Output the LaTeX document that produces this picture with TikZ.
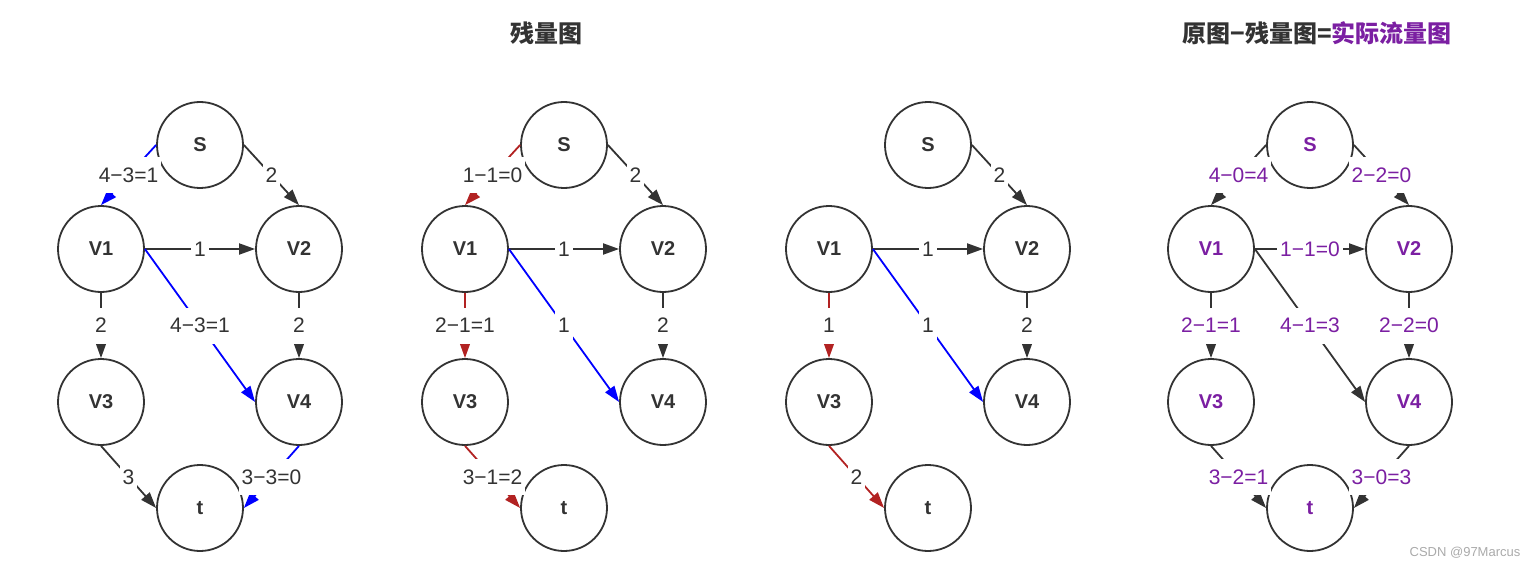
\documentclass[tikz,border=0pt]{standalone}
\usepackage{fontspec}
\setmainfont{Liberation Sans}
\newfontfamily\cjk{Noto Sans CJK SC}
\usetikzlibrary{arrows.meta}
\definecolor{ink}{HTML}{333333}
\definecolor{flowblue}{HTML}{0000FF}
\definecolor{flowred}{HTML}{B22222}
\definecolor{flowpurple}{HTML}{7B1FA2}
\definecolor{mark}{HTML}{AAAAAA}

\begin{document}
\begin{tikzpicture}[x=1pt,y=-1pt,
  vtx/.style={circle,draw=ink,line width=1.8pt,minimum size=86pt,inner sep=0pt,
    text=ink,font=\fontsize{20}{20}\selectfont\bfseries},
  conn/.style={draw=ink,line width=1.8pt,-{Triangle[length=16pt,width=11pt]}},
  wt/.style={fill=white,text=ink,inner xsep=3pt,inner ysep=0pt,minimum height=36pt,
    font=\fontsize{21}{21}\selectfont},
  heading/.style={text=ink,font=\cjk\bfseries\fontsize{24}{24}\selectfont}]
\useasboundingbox (0,0) rectangle (1537,567);

\node[heading] (titleb) at (546,33) {残量图};
\node[heading] (titled) at (1317,33) {原图−残量图=\textcolor{flowpurple}{实际流量图}};
\node[text=mark,font=\fontsize{13}{13}\selectfont] (sign) at (1465,553) {CSDN @97Marcus};

\node[vtx] (aS) at (200,145) {S};
\node[vtx] (aV1) at (101,249) {V1};
\node[vtx] (aV2) at (299,249) {V2};
\node[vtx] (aV3) at (101,402) {V3};
\node[vtx] (aV4) at (299,402) {V4};
\node[vtx] (aT) at (200,508) {t};
\draw[conn,draw=flowblue] (aS.west) -- node[wt] {4−3=1} (aV1.north);
\draw[conn] (aS.east) -- node[wt] {2} (aV2.north);
\draw[conn] (aV1.east) -- node[wt] {1} (aV2.west);
\draw[conn] (aV1.south) -- node[wt] {2} (aV3.north);
\draw[conn,draw=flowblue] (aV1.east) -- node[wt] {4−3=1} (aV4.west);
\draw[conn] (aV2.south) -- node[wt] {2} (aV4.north);
\draw[conn] (aV3.south) -- node[wt] {3} (aT.west);
\draw[conn,draw=flowblue] (aV4.south) -- node[wt] {3−3=0} (aT.east);

\begin{scope}[xshift=364pt]
\node[vtx] (bS) at (200,145) {S};
\node[vtx] (bV1) at (101,249) {V1};
\node[vtx] (bV2) at (299,249) {V2};
\node[vtx] (bV3) at (101,402) {V3};
\node[vtx] (bV4) at (299,402) {V4};
\node[vtx] (bT) at (200,508) {t};
\draw[conn,draw=flowred] (bS.west) -- node[wt] {1−1=0} (bV1.north);
\draw[conn] (bS.east) -- node[wt] {2} (bV2.north);
\draw[conn] (bV1.east) -- node[wt] {1} (bV2.west);
\draw[conn,draw=flowred] (bV1.south) -- node[wt] {2−1=1} (bV3.north);
\draw[conn,draw=flowblue] (bV1.east) -- node[wt] {1} (bV4.west);
\draw[conn] (bV2.south) -- node[wt] {2} (bV4.north);
\draw[conn,draw=flowred] (bV3.south) -- node[wt] {3−1=2} (bT.west);
\end{scope}

\begin{scope}[xshift=728pt]
\node[vtx] (cS) at (200,145) {S};
\node[vtx] (cV1) at (101,249) {V1};
\node[vtx] (cV2) at (299,249) {V2};
\node[vtx] (cV3) at (101,402) {V3};
\node[vtx] (cV4) at (299,402) {V4};
\node[vtx] (cT) at (200,508) {t};
\draw[conn] (cS.east) -- node[wt] {2} (cV2.north);
\draw[conn] (cV1.east) -- node[wt] {1} (cV2.west);
\draw[conn,draw=flowred] (cV1.south) -- node[wt] {1} (cV3.north);
\draw[conn,draw=flowblue] (cV1.east) -- node[wt] {1} (cV4.west);
\draw[conn] (cV2.south) -- node[wt] {2} (cV4.north);
\draw[conn,draw=flowred] (cV3.south) -- node[wt] {2} (cT.west);
\end{scope}

\begin{scope}[xshift=1110pt,vtx/.append style={text=flowpurple},wt/.append style={text=flowpurple}]
\node[vtx] (dS) at (200,145) {S};
\node[vtx] (dV1) at (101,249) {V1};
\node[vtx] (dV2) at (299,249) {V2};
\node[vtx] (dV3) at (101,402) {V3};
\node[vtx] (dV4) at (299,402) {V4};
\node[vtx] (dT) at (200,508) {t};
\draw[conn] (dS.west) -- node[wt] {4−0=4} (dV1.north);
\draw[conn] (dS.east) -- node[wt] {2−2=0} (dV2.north);
\draw[conn] (dV1.east) -- node[wt] {1−1=0} (dV2.west);
\draw[conn] (dV1.south) -- node[wt] {2−1=1} (dV3.north);
\draw[conn] (dV1.east) -- node[wt] {4−1=3} (dV4.west);
\draw[conn] (dV2.south) -- node[wt] {2−2=0} (dV4.north);
\draw[conn] (dV3.south) -- node[wt] {3−2=1} (dT.west);
\draw[conn] (dV4.south) -- node[wt] {3−0=3} (dT.east);
\end{scope}
\end{tikzpicture}
\end{document}
